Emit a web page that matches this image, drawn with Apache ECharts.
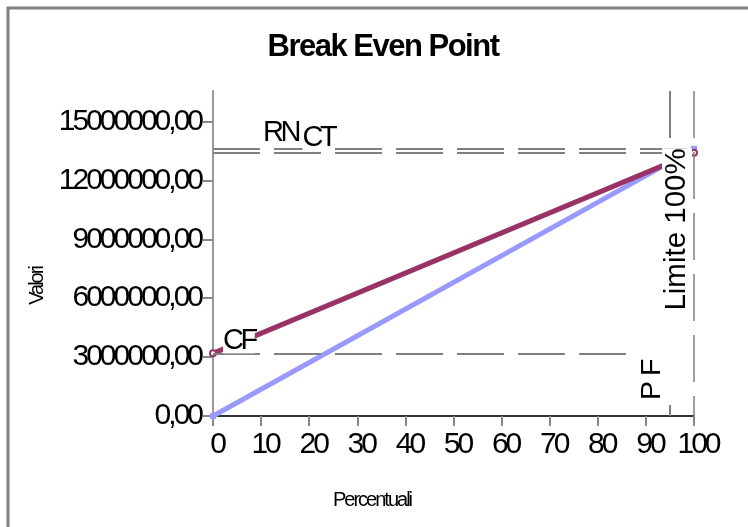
<!DOCTYPE html>
<html><head><meta charset="utf-8">
<script src="https://cdn.jsdelivr.net/npm/echarts@6/dist/echarts.min.js"></script>
<style>html,body{margin:0;padding:0;background:#fff}#c{width:748px;height:527px}</style>
</head><body><div id="c"></div>
<script>
// ---- data ----
const percentuali = [0, 100];
const ricaviNetti = [0, 13600000];        // RN
const costiTotali = [3190000, 13410000];  // CT
const costiFissi = 3190000;               // CF
const fineCF = 88;
const puntoPareggio = 95;                 // P F
const limite = 100;                       // Limite 100%
const yTicks = [0, 3000000, 6000000, 9000000, 12000000, 15000000];
const xTicks = [0, 10, 20, 30, 40, 50, 60, 70, 80, 90, 100];
const yMax = 16550000;
const labelRN = ['RN', 10.4, ricaviNetti[1]];
const labelCT = ['CT', 18.6, costiTotali[1]];
const labelCF = ['CF', 2.1, costiFissi];
const labelLimite = ['Limite 100%', limite, 9500000];
const labelPF = ['P F', puntoPareggio, 1830000];

// tight (condensed-looking) letter spacing per font size, like the original rendering
const SPACING = {'30px': '-3px', '29px': '-3.5px', '29.5px': '0px', '28.5px': '-1.5px', '31px': '-1.5px', '20px': '-2px'};
(function () {
  const proto = CanvasRenderingContext2D.prototype;
  const d = Object.getOwnPropertyDescriptor(proto, 'font');
  if (!d || !('letterSpacing' in proto)) return;
  Object.defineProperty(proto, 'font', {
    configurable: true,
    get() { return d.get.call(this); },
    set(v) {
      d.set.call(this, v);
      const m = /([\d.]+px)/.exec(v);
      this.letterSpacing = (m && SPACING[m[1]]) || '0px';
    }
  });
})();

const SANS = "'Liberation Sans',Arial,sans-serif";

const chart = echarts.init(document.getElementById('c'), null, {renderer: 'canvas'});
const dashGray = {color: '#808080', width: 2, type: [47, 14]};

chart.setOption({
  animation: false,
  backgroundColor: '#fff',
  title: {
    text: 'Break Even Point', left: 378, top: 28, textAlign: 'center',
    textStyle: {fontFamily: SANS, fontWeight: 'bold', fontSize: 31, color: '#000'}
  },
  grid: {left: 213, right: 54, top: 91, bottom: 111, containLabel: false},
  xAxis: {
    type: 'value', min: 0, max: 100, interval: 10,
    splitLine: {show: false},
    axisLine: {lineStyle: {color: '#333', width: 2}},
    axisTick: {length: 10, lineStyle: {color: '#888', width: 2}, customValues: xTicks},
    axisLabel: {margin: 15, padding: [0, 0, 0, 8], fontFamily: SANS, fontSize: 30, color: '#000', customValues: xTicks}
  },
  yAxis: {
    type: 'value', min: 0, max: yMax,
    splitLine: {show: false},
    axisLine: {show: true, lineStyle: {color: '#999', width: 2}},
    axisTick: {show: true, length: 10, lineStyle: {color: '#888', width: 2}, customValues: yTicks},
    axisLabel: {
      margin: 12, fontFamily: SANS, fontSize: 30, color: '#000', customValues: yTicks,
      formatter: v => Math.round(v) + ',00'
    }
  },
  series: [
    {
      name: 'RN', type: 'line', data: percentuali.map((p, i) => [p, ricaviNetti[i]]),
      symbol: 'rect', symbolSize: 6, showSymbol: true,
      lineStyle: {color: '#9999ff', width: 5}, itemStyle: {color: '#9999ff'},
      z: 2,
      markLine: {
        silent: true, symbol: ['none', 'none'], label: {show: false},
        lineStyle: dashGray,
        data: [
          [{coord: [0, costiFissi]}, {coord: [fineCF, costiFissi]}],
          [{coord: [0, ricaviNetti[1]]}, {coord: [limite, ricaviNetti[1]]}],
          [{coord: [0, costiTotali[1]]}, {coord: [limite, costiTotali[1]]}],
          [{coord: [puntoPareggio, yMax], lineStyle: {type: [47, 267]}}, {coord: [puntoPareggio, 0]}],
          [{coord: [limite, yMax], lineStyle: {type: [47, 14], width: 1.5}}, {coord: [limite, 0]}]
        ]
      }
    },
    {
      name: 'CT', type: 'line', data: percentuali.map((p, i) => [p, costiTotali[i]]),
      symbol: 'emptyCircle', symbolSize: 6, showSymbol: true,
      lineStyle: {color: '#993366', width: 5}, itemStyle: {color: '#993366', borderWidth: 1.5},
      z: 3
    }
  ]
});

function px(x, y) { return chart.convertToPixel({gridIndex: 0}, [x, y]); }
function lab(def, opts) {
  const p = px(def[1], def[2]);
  return {
    type: 'text', x: p[0] + (opts.dx || 0), y: p[1] + (opts.dy || 0), rotation: opts.rot || 0, z: 100,
    style: {
      text: def[0], font: opts.font, fill: '#000', align: opts.align, verticalAlign: opts.va,
      backgroundColor: '#fff', padding: opts.pad || 0
    }
  };
}
const g = [
  {type: 'rect', shape: {x: 8, y: 8, width: 900, height: 700}, style: {fill: 'none', stroke: '#808080', lineWidth: 3}, z: 0},
  lab(labelRN, {font: '29px ' + SANS, align: 'left', va: 'bottom', dy: -3}),
  lab(labelCT, {font: '29px ' + SANS, align: 'left', va: 'bottom', dy: -2}),
  lab(labelCF, {font: '29px ' + SANS, align: 'left', va: 'bottom', dy: 0}),
  lab(labelLimite, {font: '29.5px ' + SANS, align: 'center', va: 'bottom', rot: Math.PI / 2, dx: -2}),
  lab(labelPF, {font: '28.5px ' + SANS, align: 'center', va: 'bottom', rot: Math.PI / 2, dx: -4}),
  {type: 'text', x: 372, y: 500, z: 100, style: {text: 'Percentuali', font: '20px ' + SANS, fill: '#000', align: 'center', verticalAlign: 'middle'}},
  {type: 'text', x: 37, y: 286, rotation: Math.PI / 2, z: 100, style: {text: 'Valori', font: '20px ' + SANS, fill: '#000', align: 'center', verticalAlign: 'middle'}}
];
chart.setOption({graphic: g});
</script>
</body></html>
